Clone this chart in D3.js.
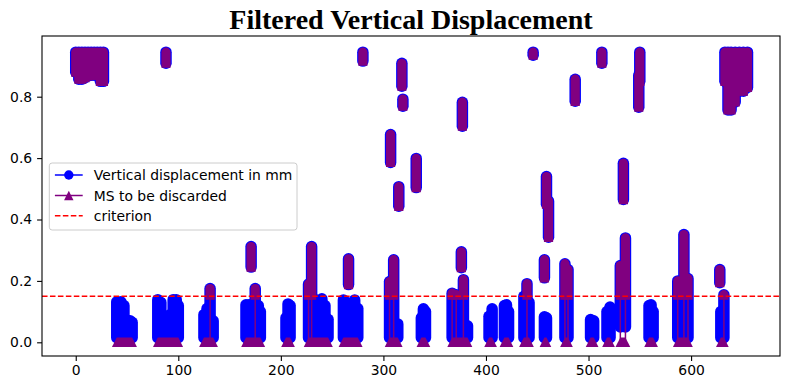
<!DOCTYPE html>
<html><head><meta charset="utf-8">
<script src="https://cdn.jsdelivr.net/npm/d3@7"></script>
<style>body{margin:0;background:#fff} svg{display:block}</style>
</head><body>
<svg id="c" width="790" height="390"></svg>
<script>
// Each streak = a run of measurements at one x position (min / max value of the run)
const streakX  = [0,3,6,9,12,15,18,21,24,27,
  40,44,47,50,53,55,
  80,83,86,88,89,92,95,98,100,
  125,128,131,134,
  166,169,171,175,178,180,
  205,207,209,
  227,230,233,237,240,243,246,
  261,264,266,268,272,275,280,
  306,307,310,314,315,318,319,332,
  337,339,341,
  367,371,374,376,377,378,382,
  403,406,418,420,422,
  437,440,442,446,
  457,457,459,459,461,
  477,480,487,
  502,505,513,518,521,
  531,534,536,549,550,
  559,561,563,
  587,593,597,
  628,629,632,
  633,636,639,643,647,651,655];
const streakLo = [0.88,0.857,0.857,0.862,0.868,0.87,0.87,0.87,0.85,0.85,
  0.015,0.015,0.015,0.015,0.015,0.015,
  0.015,0.015,0.015,0.909,0.015,0.015,0.015,0.015,0.015,
  0.015,0.015,0.015,0.015,
  0.015,0.015,0.245,0.015,0.015,0.015,
  0.015,0.015,0.015,
  0.015,0.015,0.015,0.015,0.015,0.015,0.015,
  0.015,0.015,0.188,0.015,0.015,0.015,0.916,
  0.015,0.586,0.015,0.015,0.443,0.834,0.769,0.504,
  0.015,0.015,0.015,
  0.015,0.015,0.015,0.243,0.704,0.015,0.015,
  0.015,0.015,0.015,0.015,0.015,
  0.015,0.015,0.015,0.935,
  0.015,0.21,0.015,0.45,0.342,
  0.015,0.015,0.785,
  0.015,0.015,0.909,0.015,0.015,
  0.05,0.465,0.05,0.766,0.85,
  0.015,0.015,0.015,
  0.015,0.015,0.015,
  0.194,0.015,0.015,
  0.85,0.757,0.757,0.783,0.818,0.818,0.83];
const streakHi = [0.945,0.945,0.945,0.945,0.945,0.945,0.945,0.945,0.945,0.945,
  0.132,0.132,0.12,0.072,0.07,0.065,
  0.139,0.13,0.07,0.945,0.05,0.09,0.139,0.139,0.12,
  0.09,0.11,0.175,0.07,
  0.122,0.122,0.312,0.175,0.12,0.1,
  0.08,0.125,0.12,
  0.19,0.312,0.14,0.12,0.142,0.12,0.075,
  0.138,0.13,0.272,0.12,0.138,0.11,0.945,
  0.198,0.677,0.269,0.06,0.507,0.909,0.792,0.599,
  0.08,0.109,0.1,
  0.16,0.155,0.14,0.295,0.782,0.204,0.054,
  0.085,0.109,0.12,0.122,0.1,
  0.15,0.191,0.13,0.945,
  0.083,0.269,0.08,0.54,0.46,
  0.256,0.237,0.857,
  0.074,0.07,0.945,0.1,0.115,
  0.25,0.583,0.34,0.87,0.945,
  0.12,0.122,0.1,
  0.2,0.351,0.208,
  0.237,0.1,0.155,
  0.945,0.945,0.945,0.945,0.945,0.945,0.945];
const criterion = 0.15;
const xTicks = [0,100,200,300,400,500,600];
const yTicks = [0.0,0.2,0.4,0.6,0.8];
const legendLabels = ["Vertical displacement in mm","MS to be discarded","criterion"];
const titleText = "Filtered Vertical Displacement";

const svg = d3.select("#c");
const m = {l:42, r:780, t:36, b:356};
const x = d3.scaleLinear().domain([-32.9, 686.7]).range([m.l, m.r]);
const y = d3.scaleLinear().domain([-0.0446, 0.9977]).range([m.b, m.t]);
const BLUE="#0000ff", PURPLE="#800080";

const streaks = streakX.map((v,i)=>({x:v, lo:streakLo[i], hi:streakHi[i]}));

// blue: all measurements
svg.append("g").selectAll("line").data(streaks).join("line")
  .attr("x1",d=>x(d.x)).attr("x2",d=>x(d.x))
  .attr("y1",d=>y(d.lo)).attr("y2",d=>y(d.hi))
  .attr("stroke",BLUE).attr("stroke-width",11.5).attr("stroke-linecap","round");

// purple: values above criterion keep value, others set to 0
const gp = svg.append("g");
const crossing = streaks.filter(d=>d.lo<=criterion && d.hi>criterion);
gp.selectAll("line").data(crossing).join("line")
  .attr("x1",d=>x(d.x)).attr("x2",d=>x(d.x))
  .attr("y1",y(0)).attr("y2",y(criterion))
  .attr("stroke",PURPLE).attr("stroke-width",1.5);
const r=4.6;
gp.selectAll("path.col").data(streaks.filter(d=>d.hi>criterion)).join("path")
  .attr("class","col")
  .attr("d",d=>{
    const cx=x(d.x), yt=y(d.hi), yb=y(Math.max(d.lo,criterion+0.004));
    return `M${cx-r},${yb+r}L${cx-r},${yt}A${r},${r} 0 0 1 ${cx+r},${yt}L${cx+r},${yb+r}Z`;
  }).attr("fill",PURPLE);

// zero-valued purple markers: consecutive runs of triangles merge into one band
const zeroX = streaks.filter(d=>d.lo<=criterion).map(d=>d.x).sort((a,b)=>a-b);
const runs=[];
zeroX.forEach(v=>{
  const last=runs[runs.length-1];
  if(last && v-last[1]<=6.5) last[1]=v; else runs.push([v,v]);
});
const t=4.8;
gp.selectAll("path.tri").data(runs).join("path")
  .attr("class","tri")
  .attr("d",d=>{const a=x(d[0]), b=x(d[1]), cy=y(0);
    return `M${a},${cy-t}L${b},${cy-t}L${b+t},${cy+t}L${a-t},${cy+t}Z`;})
  .attr("fill",PURPLE);

// criterion line
svg.append("line").attr("x1",m.l).attr("x2",m.r).attr("y1",y(criterion)).attr("y2",y(criterion))
  .attr("stroke","#ff0000").attr("stroke-width",1.5).attr("stroke-dasharray","5.55,2.4");

// axes
const fs="13.9px", ff="'DejaVu Sans', sans-serif";
const ax = svg.append("g").attr("transform",`translate(0,${m.b})`)
  .call(d3.axisBottom(x).tickValues(xTicks).tickFormat(d3.format("d")).tickSize(4.9).tickPadding(4.2));
const ay = svg.append("g").attr("transform",`translate(${m.l},0)`)
  .call(d3.axisLeft(y).tickValues(yTicks).tickFormat(d3.format(".1f")).tickSize(4.9).tickPadding(4.9));
[ax,ay].forEach(a=>{
  a.select(".domain").remove();
  a.selectAll(".tick line").attr("stroke","#000").attr("stroke-width",1.1);
  a.selectAll(".tick text").attr("fill","#000").style("font-size",fs).style("font-family",ff);
});
svg.append("rect").attr("x",m.l).attr("y",m.t).attr("width",m.r-m.l).attr("height",m.b-m.t)
  .attr("fill","none").attr("stroke","#000").attr("stroke-width",1.1);

// legend
const lg = svg.append("g");
lg.append("rect").attr("x",49.3).attr("y",163).attr("width",247.7).attr("height",67).attr("rx",2.8)
  .attr("fill","#fff").attr("fill-opacity",0.8).attr("stroke","#cccccc").attr("stroke-width",1);
const rows=[175,195.5,215.8];
const hx0=54.9,hx1=82.7,hxm=(hx0+hx1)/2;
lg.append("line").attr("x1",hx0).attr("x2",hx1).attr("y1",rows[0]).attr("y2",rows[0]).attr("stroke",BLUE).attr("stroke-width",1.5);
lg.append("circle").attr("cx",hxm).attr("cy",rows[0]).attr("r",4.7).attr("fill",BLUE);
lg.append("line").attr("x1",hx0).attr("x2",hx1).attr("y1",rows[1]).attr("y2",rows[1]).attr("stroke",PURPLE).attr("stroke-width",1.5);
lg.append("path").attr("d",`M${hxm},${rows[1]-4.7}L${hxm+4.7},${rows[1]+4.7}L${hxm-4.7},${rows[1]+4.7}Z`).attr("fill",PURPLE);
lg.append("line").attr("x1",hx0).attr("x2",hx1).attr("y1",rows[2]).attr("y2",rows[2]).attr("stroke","#ff0000").attr("stroke-width",1.5).attr("stroke-dasharray","5.55,2.4");
lg.selectAll("text").data(legendLabels).join("text")
  .attr("x",93.8).attr("y",(d,i)=>rows[i]).attr("dy","0.36em")
  .style("font-size",fs).style("font-family",ff).attr("fill","#000").text(d=>d);

// title
svg.append("text").attr("x",(m.l+m.r)/2).attr("y",28.5).attr("text-anchor","middle")
  .style("font-family","'Liberation Serif', 'Times New Roman', serif").style("font-weight","bold")
  .style("font-size","28px").attr("fill","#000").text(titleText);
</script>
</body></html>
